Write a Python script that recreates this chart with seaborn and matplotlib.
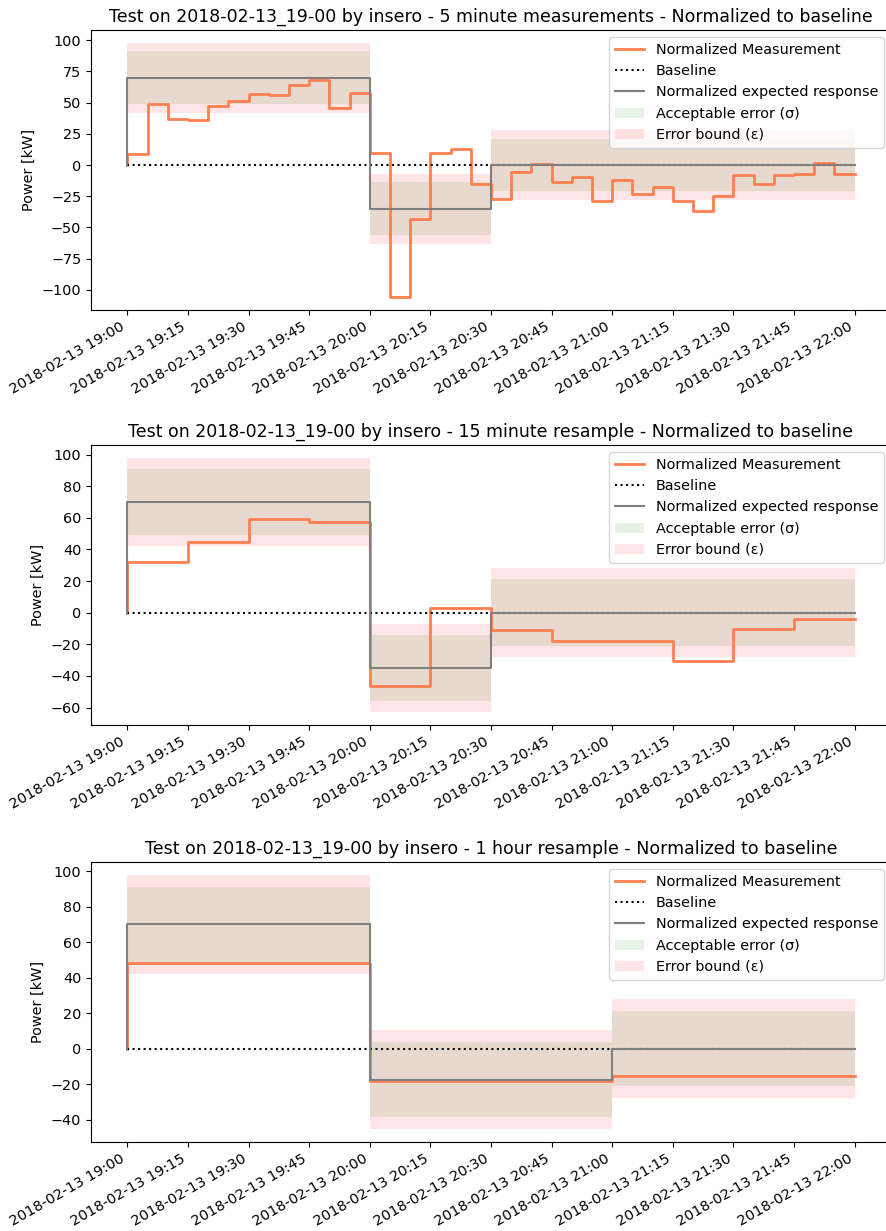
import pandas as pd
import matplotlib
matplotlib.use("Agg")
import matplotlib.pyplot as plt
import matplotlib.dates as mdates
import seaborn as sns

# Normalized measurement, 5 minute values (first point is the 19:00 start at 0)
meas_5min = [0, 9, 49, 37, 36, 47, 51, 57, 56, 64, 68, 46, 58,
             10, -106, -43, 10, 13, -15,
             -27, -6, 1, -14, -10, -29, -12, -23, -18, -29, -37, -25,
             -8, -15, -8, -7, 2, -7]
expected_5min = [0] + [70] * 12 + [-35] * 6 + [0] * 18

# 15 minute resample
meas_15min = [0, 32, 44.6, 59.2, 57.4, -46.5, 2.8, -10.7, -17.9, -17.9, -30.3, -10.3, -3.8]
expected_15min = [0, 70, 70, 70, 70, -35, -35, 0, 0, 0, 0, 0, 0]

# 1 hour resample
meas_1h = [0, 48.3, -18.1, -15.6]
expected_1h = [0, 70, -17.5, 0]

sigma = 21    # acceptable error
epsilon = 28  # error bound

titles = [
    "Test on 2018-02-13_19-00 by insero - 5 minute measurements - Normalized to baseline",
    "Test on 2018-02-13_19-00 by insero - 15 minute resample - Normalized to baseline",
    "Test on 2018-02-13_19-00 by insero - 1 hour resample - Normalized to baseline",
]

start = pd.Timestamp("2018-02-13 19:00")
panels = [
    (pd.date_range(start, periods=len(meas_5min), freq="5min"), meas_5min, expected_5min),
    (pd.date_range(start, periods=len(meas_15min), freq="15min"), meas_15min, expected_15min),
    (pd.date_range(start, periods=len(meas_1h), freq="1h"), meas_1h, expected_1h),
]

plt.rcParams["font.size"] = 10.4

fig = plt.figure(figsize=(8.86, 12.31), dpi=100)
left, width, height = 91 / 886, 800 / 886, 280 / 1231
bottoms = [1 - 310 / 1231, 1 - 725 / 1231, 1 - 1142 / 1231]

for (times, meas, expected), title, bottom in zip(panels, titles, bottoms):
    ax = fig.add_axes([left, bottom, width, height])
    df = pd.DataFrame({"time": times, "meas": meas, "expected": expected})
    df["baseline"] = 0.0

    sns.lineplot(data=df, x="time", y="meas", ax=ax, color="coral", lw=2,
                 drawstyle="steps-pre", estimator=None, label="Normalized Measurement")
    sns.lineplot(data=df, x="time", y="baseline", ax=ax, color="black", lw=1.5,
                 linestyle=":", estimator=None, label="Baseline")
    sns.lineplot(data=df, x="time", y="expected", ax=ax, color="grey", lw=1.5,
                 drawstyle="steps-pre", estimator=None, label="Normalized expected response")

    ax.fill_between(df["time"], df["expected"] - sigma, df["expected"] + sigma,
                    step="pre", color="green", alpha=0.1, lw=0,
                    label="Acceptable error (σ)")
    ax.fill_between(df["time"], df["expected"] - epsilon, df["expected"] + epsilon,
                    step="pre", color="red", alpha=0.1, lw=0,
                    label="Error bound (ε)")

    ax.set_title(title, fontsize=12.5)
    ax.set_ylabel("Power [kW]")
    ax.set_xlabel("")
    ax.xaxis.set_major_locator(mdates.MinuteLocator(byminute=[0, 15, 30, 45]))
    ax.xaxis.set_major_formatter(mdates.DateFormatter("%Y-%m-%d %H:%M"))
    plt.setp(ax.get_xticklabels(), rotation=30, ha="right")
    ax.legend(loc="upper right", labelspacing=0.5)

fig.savefig("out.png", dpi=100)
